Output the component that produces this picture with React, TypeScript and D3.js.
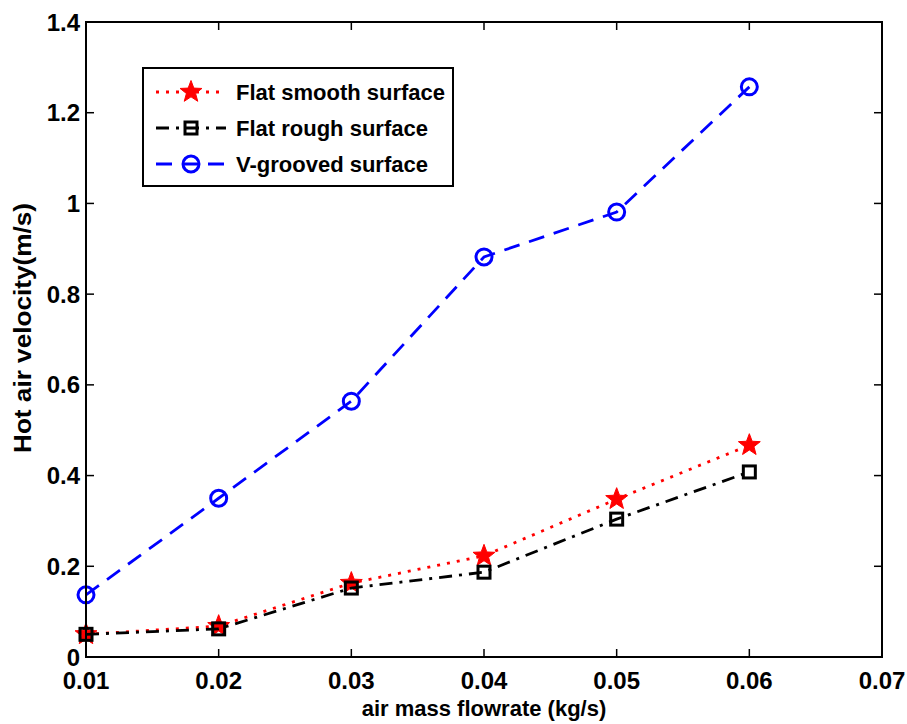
import React from "react";
import * as d3 from "d3";

const xValues = [0.01, 0.02, 0.03, 0.04, 0.05, 0.06];
const flatSmooth = [0.05, 0.068, 0.163, 0.223, 0.348, 0.467];
const flatRough = [0.05, 0.062, 0.152, 0.187, 0.304, 0.408];
const vGrooved = [0.137, 0.35, 0.564, 0.882, 0.981, 1.257];
const xTicks = [0.01, 0.02, 0.03, 0.04, 0.05, 0.06, 0.07];
const yTicks = [0, 0.2, 0.4, 0.6, 0.8, 1, 1.2, 1.4];
const seriesNames = ["Flat smooth surface", "Flat rough surface", "V-grooved surface"];

const W = 907, H = 724;
const L = 86, R = 882, T = 22, B = 657;

function starPath(cx: number, cy: number, r: number) {
  const pts: string[] = [];
  for (let i = 0; i < 10; i++) {
    const rad = i % 2 === 0 ? r : r * 0.42;
    const a = -Math.PI / 2 + (i * Math.PI) / 5;
    pts.push(`${cx + rad * Math.cos(a)},${cy + rad * Math.sin(a)}`);
  }
  return "M" + pts.join("L") + "Z";
}

export default function App() {
  const x = d3.scaleLinear().domain([0.01, 0.07]).range([L, R]);
  const y = d3.scaleLinear().domain([0, 1.4]).range([B, T]);
  const line = d3.line<[number, number]>().x((d) => x(d[0])).y((d) => y(d[1]));
  const s1 = xValues.map((v, i) => [v, flatSmooth[i]] as [number, number]);
  const s2 = xValues.map((v, i) => [v, flatRough[i]] as [number, number]);
  const s3 = xValues.map((v, i) => [v, vGrooved[i]] as [number, number]);
  const font = "Liberation Sans, Arial, sans-serif";
  const red = "#ff0000", blue = "#0000ff";
  const dotted = "3 7", dashdot = "13 7 3 7", dashed = "16 10";
  const lw = 2.8;
  const legY = [92, 128, 164];
  const marker = (k: number, cx: number, cy: number, key: string) => {
    if (k === 0) return <path key={key} d={starPath(cx, cy, 11.5)} fill={red} stroke={red} strokeWidth={1} />;
    if (k === 1) return <rect key={key} x={cx - 6} y={cy - 6} width={12} height={12} fill="none" stroke="#000" strokeWidth={3} />;
    return <circle key={key} cx={cx} cy={cy} r={8} fill="none" stroke={blue} strokeWidth={3} />;
  };
  const styles = [
    { c: red, d: dotted, data: s1 },
    { c: "#000", d: dashdot, data: s2 },
    { c: blue, d: dashed, data: s3 },
  ];
  return (
    <svg width={W} height={H} style={{ position: "absolute", left: 0, top: 0, background: "#fff" }} fontFamily={font}>
      <rect x={0} y={0} width={W} height={H} fill="#fff" />
      {styles.map((s, k) => (
        <g key={k}>
          <path d={line(s.data) || ""} fill="none" stroke={s.c} strokeWidth={lw} strokeDasharray={s.d} />
          {s.data.map((d, i) => marker(k, x(d[0]), y(d[1]), `m${k}-${i}`))}
        </g>
      ))}
      <rect x={L} y={T} width={R - L} height={B - T} fill="none" stroke="#000" strokeWidth={2} />
      {xTicks.map((t) => (
        <g key={"x" + t}>
          <line x1={x(t)} x2={x(t)} y1={B} y2={B - 8} stroke="#000" strokeWidth={1.5} />
          <line x1={x(t)} x2={x(t)} y1={T} y2={T + 8} stroke="#000" strokeWidth={1.5} />
          <text x={x(t)} y={689} textAnchor="middle" fontSize={24} fontWeight="bold">{t.toFixed(2)}</text>
        </g>
      ))}
      {yTicks.map((t) => (
        <g key={"y" + t}>
          <line x1={L} x2={L + 8} y1={y(t)} y2={y(t)} stroke="#000" strokeWidth={1.5} />
          <line x1={R} x2={R - 8} y1={y(t)} y2={y(t)} stroke="#000" strokeWidth={1.5} />
          <text x={80} y={y(t) + 8.5} textAnchor="end" fontSize={24} fontWeight="bold">{String(t)}</text>
        </g>
      ))}
      <text x={484} y={716} textAnchor="middle" fontSize={22} fontWeight="bold">air mass flowrate (kg/s)</text>
      <text transform={`translate(31,328) rotate(-90)`} textAnchor="middle" fontSize={23} fontWeight="bold" textLength={250} lengthAdjust="spacingAndGlyphs">Hot air velocity(m/s)</text>
      <rect x={143} y={68} width={310} height={118} fill="#fff" stroke="#000" strokeWidth={2} />
      {styles.map((s, k) => (
        <g key={"l" + k}>
          <line x1={156} x2={226} y1={legY[k]} y2={legY[k]} stroke={s.c} strokeWidth={lw} strokeDasharray={s.d} />
          {marker(k, 191, legY[k], "lm" + k)}
          <text x={236} y={legY[k] + 8} fontSize={22} fontWeight="bold">{seriesNames[k]}</text>
        </g>
      ))}
    </svg>
  );
}
